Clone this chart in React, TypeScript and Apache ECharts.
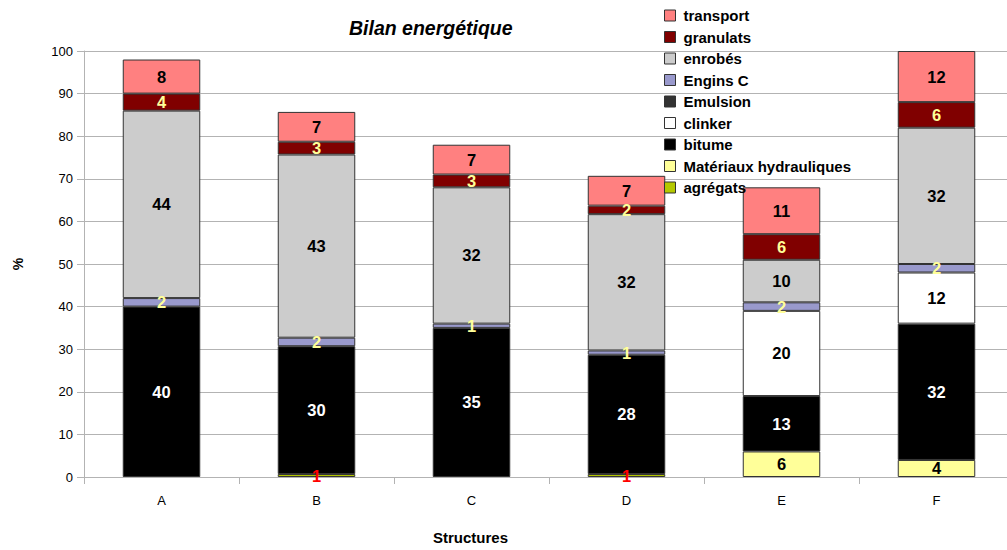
import React, { useEffect, useRef } from "react";
import * as echarts from "echarts";

const categories = ["A", "B", "C", "D", "E", "F"];
const seriesNames = [
  "agrégats",
  "Matériaux hydrauliques",
  "bitume",
  "clinker",
  "Emulsion",
  "Engins C",
  "enrobés",
  "granulats",
  "transport",
];
const agregats = [null, 0.7, null, 0.7, null, null];
const materiauxHydrauliques = [null, null, null, null, 6, 4];
const bitume = [40, 30, 35, 28, 13, 32];
const clinker = [null, null, null, null, 20, 12];
const emulsion = [null, null, null, null, null, null];
const enginsC = [2, 2, 1, 1, 2, 2];
const enrobes = [44, 43, 32, 32, 10, 32];
const granulats = [4, 3, 3, 2, 6, 6];
const transport = [8, 7, 7, 7, 11, 12];
const yTicks = { min: 0, max: 100, interval: 10 };

const seriesData = [agregats, materiauxHydrauliques, bitume, clinker, emulsion, enginsC, enrobes, granulats, transport];
const colors = ["#B4C800", "#FFFF99", "#000000", "#FFFFFF", "#333333", "#9999CC", "#CCCCCC", "#800000", "#FF8080"];
const labelColors = ["#FF0000", "#000000", "#FFFFFF", "#000000", "#FFFFFF", "#FFFF99", "#000000", "#FFFF99", "#000000"];
const legendOrder = [...seriesNames].reverse();

const FONT = "Liberation Sans, Arial, sans-serif";

export default function App() {
  const ref = useRef<HTMLDivElement>(null);
  useEffect(() => {
    if (!ref.current) return;
    const chart = echarts.init(ref.current, null, { renderer: "svg" });
    chart.setOption({
      animation: false,
      backgroundColor: "#FFFFFF",
      title: {
        text: "Bilan energétique",
        left: 344,
        top: 13,
        textStyle: { fontFamily: FONT, fontSize: 19.5, fontStyle: "italic", fontWeight: "bold", color: "#000" },
      },
      legend: {
        orient: "vertical",
        left: 659,
        top: 3,
        itemWidth: 11,
        itemHeight: 11,
        itemGap: 6.5,
        icon: "rect",
        data: legendOrder,
        textStyle: { fontFamily: FONT, fontSize: 15, fontWeight: "bold", color: "#000", padding: [0, 0, 0, 3] },
        itemStyle: { borderColor: "#333", borderWidth: 1 },
      },
      grid: { left: 84, right: 0, top: 51, bottom: 73, containLabel: false },
      xAxis: {
        type: "category",
        data: categories,
        axisLine: { lineStyle: { color: "#B3B3B3", width: 1 } },
        axisTick: { show: true, length: 7, lineStyle: { color: "#B3B3B3" } },
        axisLabel: { fontFamily: FONT, fontSize: 13, color: "#000", margin: 17 },
      },
      yAxis: {
        type: "value",
        min: yTicks.min,
        max: yTicks.max,
        interval: yTicks.interval,
        name: "%",
        nameLocation: "middle",
        nameRotate: 90,
        nameGap: 59,
        nameTextStyle: { fontFamily: FONT, fontSize: 14, fontWeight: "bold", color: "#000" },
        axisLine: { show: true, lineStyle: { color: "#B3B3B3", width: 1 } },
        axisTick: { show: true, length: 7, lineStyle: { color: "#B3B3B3" } },
        splitLine: { show: true, lineStyle: { color: "#B3B3B3", width: 1 } },
        axisLabel: { fontFamily: FONT, fontSize: 13, color: "#000", margin: 11 },
      },
      graphic: [
        {
          type: "text",
          left: 433,
          top: 530,
          style: { text: "Structures", fontFamily: FONT, fontSize: 15, fontWeight: "bold", fill: "#000" },
        },
      ],
      series: seriesNames.map((name, i) => ({
        name,
        type: "bar",
        stack: "total",
        barWidth: "50%",
        data: seriesData[i],
        itemStyle: { color: colors[i], borderColor: "#333", borderWidth: 1 },
        label: {
          show: true,
          position: "inside",
          fontFamily: FONT,
          fontSize: 16.5,
          fontWeight: "bold",
          color: labelColors[i],
          formatter: (p: any) => (p.value == null ? "" : String(Math.round(p.value))),
        },
        emphasis: { disabled: true },
      })),
    });
    return () => chart.dispose();
  }, []);
  return (
    <div style={{ position: "fixed", left: 0, top: 0, width: 1007, height: 550, overflow: "hidden", background: "#fff" }}>
      <div ref={ref} style={{ width: 1014, height: 550 }} />
    </div>
  );
}
